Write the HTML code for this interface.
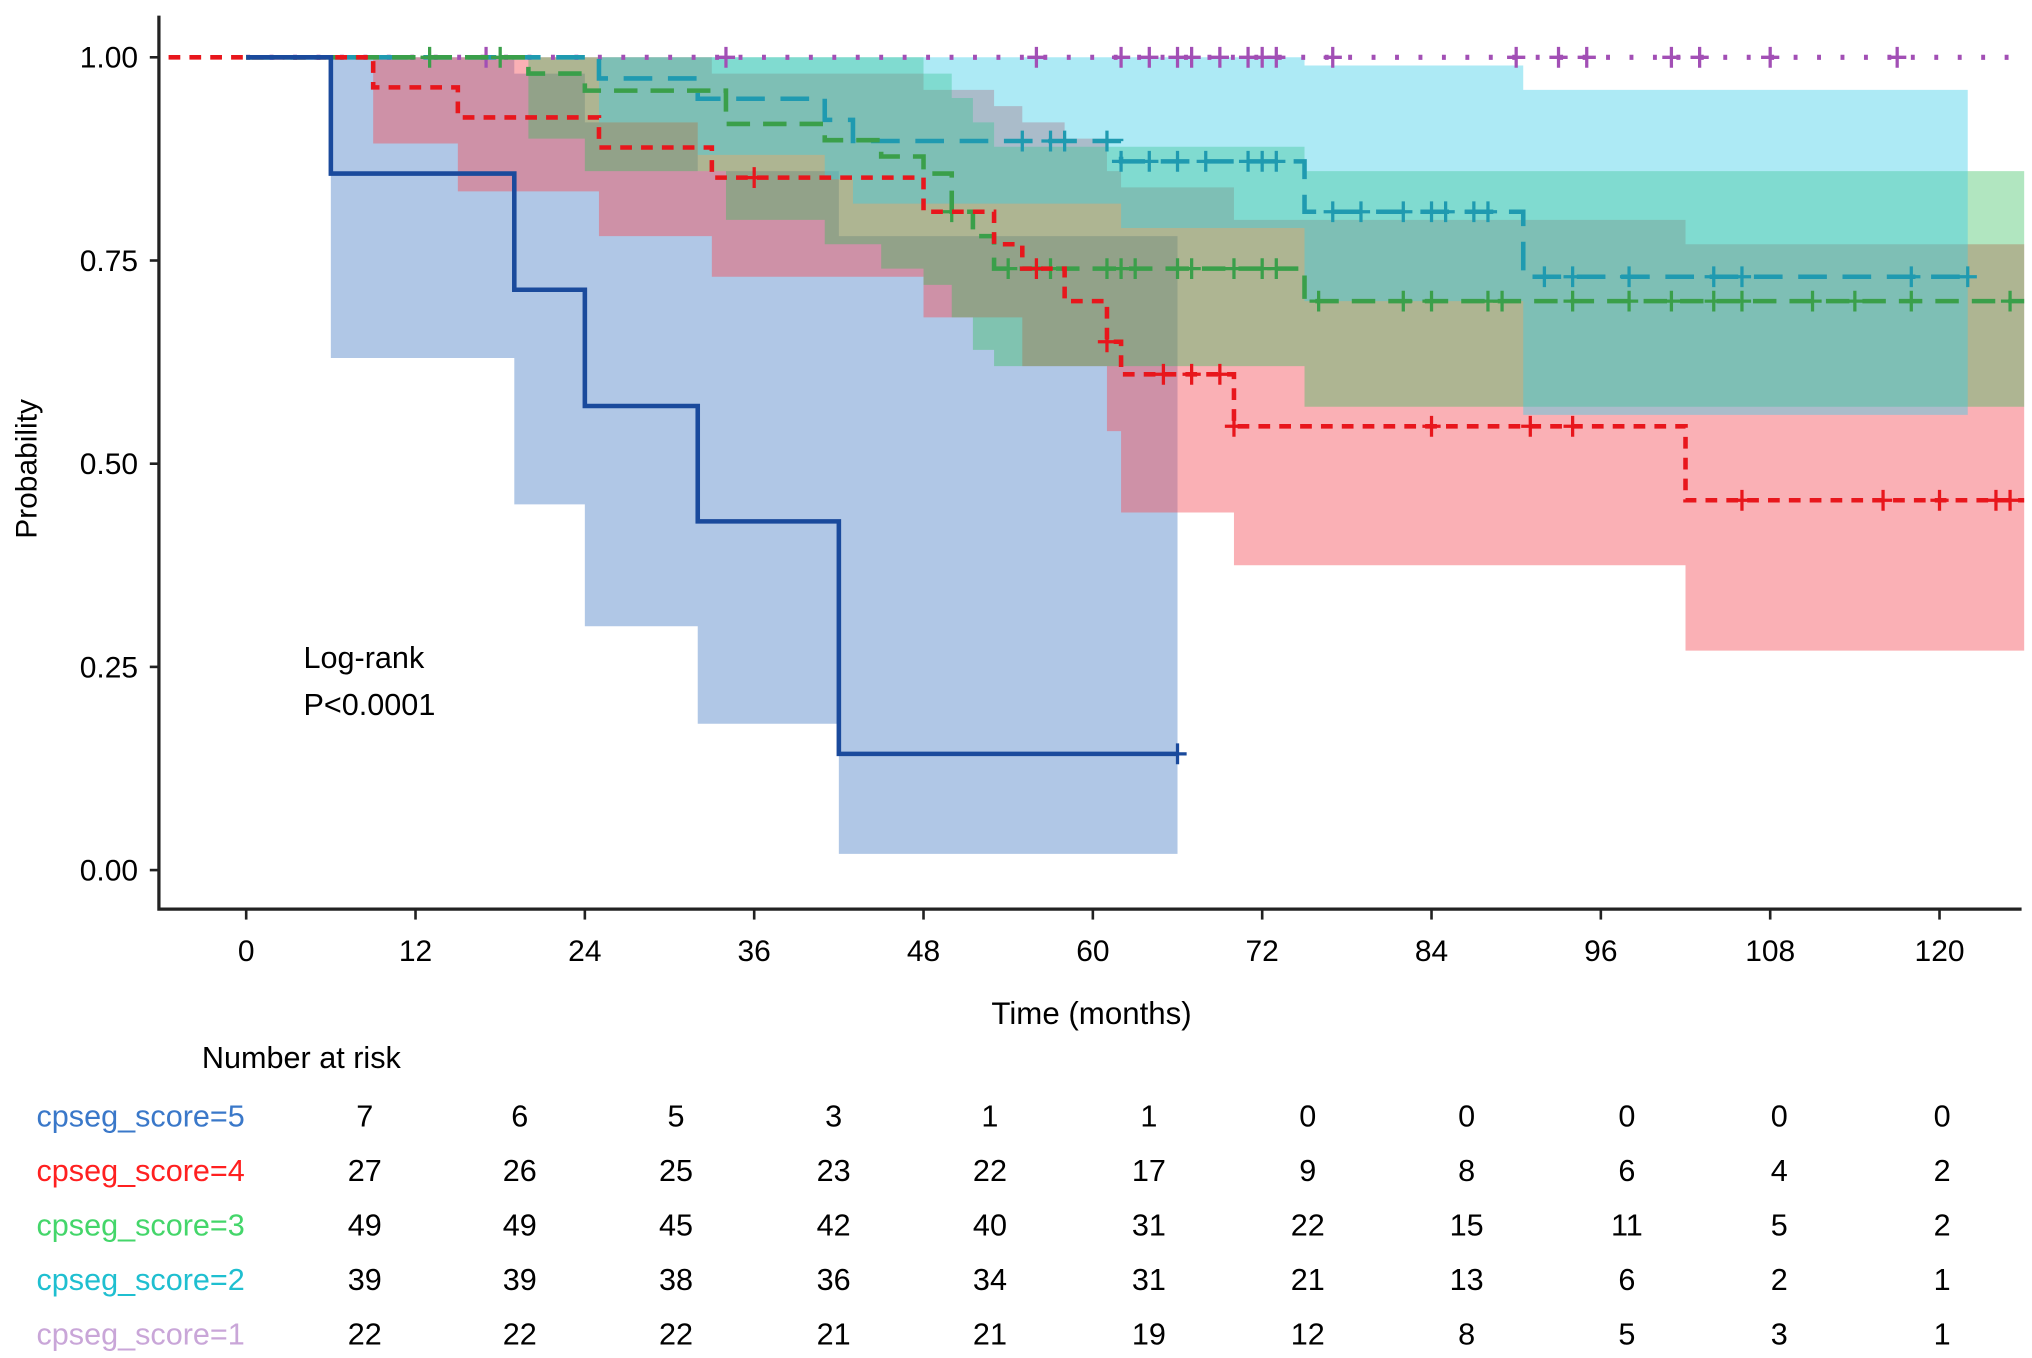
<!DOCTYPE html>
<html><head><meta charset="utf-8"><style>
html,body{margin:0;padding:0;background:#fff;}
svg{display:block;font-family:"Liberation Sans",Arial,sans-serif;}
</style></head><body>
<svg id="chart" width="2032" height="1358" viewBox="0 0 1560 1042.6" preserveAspectRatio="none" xmlns="http://www.w3.org/2000/svg">
<g id="bands"></g>
<g id="curves"></g>
<g id="axes"></g>
<text x="233" y="513" font-size="23.5">Log-rank</text>
<text x="233" y="549" font-size="23.5">P&lt;0.0001</text>
<text x="838" y="786" font-size="24" text-anchor="middle">Time (months)</text>
<text transform="translate(28,360) rotate(-90)" font-size="23" text-anchor="middle">Probability</text>
<text x="155" y="820" font-size="23.5">Number at risk</text>
<g id="risk"></g>
</svg>
<script>
const xTicks=[0,12,24,36,48,60,72,84,96,108,120];
const yTicks=[0,0.25,0.5,0.75,1];
const yTickLabels=["0.00","0.25","0.50","0.75","1.00"];
// score 5
const s5Times=[6,19,24,32,42];
const s5Surv=[0.857,0.714,0.571,0.429,0.143];
const s5Lower=[0.63,0.45,0.30,0.18,0.02];
const s5Upper=[1,0.98,0.92,0.86,0.78];
const s5Censor=[66];
// score 4
const s4Times=[9,15,25,33,48,53,55,58,61,62,70,102];
const s4Surv=[0.963,0.926,0.889,0.852,0.81,0.77,0.74,0.70,0.65,0.61,0.546,0.455];
const s4Lower=[0.894,0.835,0.78,0.73,0.68,0.68,0.62,0.62,0.54,0.44,0.375,0.27];
const s4Upper=[1,1,1,0.98,0.96,0.94,0.92,0.9,0.86,0.84,0.8,0.77];
const s4Censor=[36,56,61,65,67,69,70,84,91,94,106,116,120,124,125];
// score 3
const s3Times=[20,24,34,41,45,48,50,51.5,53,75];
const s3Surv=[0.98,0.959,0.918,0.898,0.878,0.857,0.81,0.78,0.74,0.70];
const s3Lower=[0.9,0.86,0.8,0.77,0.74,0.72,0.68,0.64,0.62,0.57];
const s3Upper=[1,1,1,1,1,0.98,0.95,0.92,0.89,0.86];
const s3Censor=[13,18,50,54,57,61,62,63,66,67,70,72,73,76,82,84,88,89,94,98,101,104,106,111,114,118,125];
// score 2
const s2Times=[25,32,41,43,62,75,90.5];
const s2Surv=[0.974,0.949,0.923,0.897,0.872,0.81,0.73];
const s2Lower=[0.92,0.88,0.85,0.82,0.79,0.7,0.56];
const s2Upper=[1,1,1,1,1,0.99,0.96];
const s2Censor=[55,57,58,61,62,64,66,68,71,72,73,77,79,82,84,85,87,88,92,94,98,104,106,118,122];
// score 1
const s1Times=[];
const s1Surv=[];
const s1Lower=[];
const s1Upper=[];
const s1Censor=[17,34,56,62,64,66,67,69,71,72,73,77,90,93,95,101,103,108,117];
// risk table
const riskLabels=["cpseg_score=5","cpseg_score=4","cpseg_score=3","cpseg_score=2","cpseg_score=1"];
const risk5=[7,6,5,3,1,1,0,0,0,0,0];
const risk4=[27,26,25,23,22,17,9,8,6,4,2];
const risk3=[49,49,45,42,40,31,22,15,11,5,2];
const risk2=[39,39,38,36,34,31,21,13,6,2,1];
const risk1=[22,22,22,21,21,19,12,8,5,3,1];

const NS="http://www.w3.org/2000/svg";
const X=t=>189+t*(1300/120);
const Y=p=>668-p*624;
function mk(tag,attrs,parent){const e=document.createElementNS(NS,tag);for(const k in attrs)e.setAttribute(k,attrs[k]);parent.appendChild(e);return e;}
function stepPts(times,vals,start,end){let pts=[[X(start),Y(1)]];let v=1;for(let i=0;i<times.length;i++){pts.push([X(times[i]),Y(v)]);v=vals[i];pts.push([X(times[i]),Y(v)]);}pts.push([X(end),Y(v)]);return pts;}
function survAt(times,vals,t){let v=1;for(let i=0;i<times.length;i++)if(times[i]<=t)v=vals[i];return v;}
const series=[
 {t:s5Times,s:s5Surv,lo:s5Lower,up:s5Upper,c:s5Censor,start:0,end:66,band:"rgba(80,130,200,0.45)",line:"#1a4a9c",dash:"",w:3.5,name:"score-5"},
 {t:s4Times,s:s4Surv,lo:s4Lower,up:s4Upper,c:s4Censor,start:-5.5,end:126,band:"rgba(245,80,90,0.45)",line:"#e8161c",dash:"9,7",w:3.5,name:"score-4"},
 {t:s3Times,s:s3Surv,lo:s3Lower,up:s3Upper,c:s3Censor,start:0,end:126,band:"rgba(50,190,90,0.38)",line:"#3a9f4a",dash:"18,10",w:3.5,name:"score-3"},
 {t:s2Times,s:s2Surv,lo:s2Lower,up:s2Upper,c:s2Censor,start:0,end:122,band:"rgba(60,205,230,0.42)",line:"#1f9ab0",dash:"22,12",w:3.5,name:"score-2"},
 {t:s1Times,s:s1Surv,lo:s1Lower,up:s1Upper,c:s1Censor,start:0,end:126,band:"rgba(190,150,205,0.35)",line:"#a24fb5",dash:"3,15",w:4,name:"score-1"}
];
const bands=document.getElementById('bands'),curves=document.getElementById('curves');
series.forEach(sr=>{
 if(sr.t.length){
  const up=stepPts(sr.t,sr.up,sr.start<0?0:sr.start,sr.end);
  const lo=stepPts(sr.t,sr.lo,sr.start<0?0:sr.start,sr.end).reverse();
  const b=mk('polygon',{points:up.concat(lo).map(p=>p.join(',')).join(' '),fill:sr.band},bands);
  
  
 }
});
series.slice().reverse().forEach(sr=>{
 const pts=stepPts(sr.t,sr.s,sr.start,sr.end);
 const l=mk('polyline',{points:pts.map(p=>p.join(',')).join(' '),fill:'none',stroke:sr.line,'stroke-width':sr.w,'stroke-dasharray':sr.dash},curves);
 
 
 sr.c.forEach(t=>{const x=X(t),y=Y(survAt(sr.t,sr.s,t));
  const g=mk('path',{d:`M${x-7},${y}H${x+7}M${x},${y-8}V${y+8}`,stroke:sr.line,'stroke-width':2.5},curves);
  
  
 });
});
const ax=document.getElementById('axes');
mk('path',{d:'M122,12V698H1552',fill:'none',stroke:'#222','stroke-width':2.5},ax);
yTicks.forEach((v,i)=>{mk('line',{x1:115,x2:122,y1:Y(v),y2:Y(v),stroke:'#222','stroke-width':2},ax);
 const t=mk('text',{x:106,y:Y(v)+8,'font-size':23,'text-anchor':'end'},ax);t.textContent=yTickLabels[i];
 
 });
xTicks.forEach(v=>{mk('line',{x1:X(v),x2:X(v),y1:698,y2:706,stroke:'#222','stroke-width':2},ax);
 const t=mk('text',{x:X(v),y:738,'font-size':23,'text-anchor':'middle'},ax);t.textContent=v;
 
 });
const rk=document.getElementById('risk');
const rows=[risk5,risk4,risk3,risk2,risk1];
const rowColors=["#3a78c9","#ff2020","#44d66a","#1fbfd0","#c9a6d8"];
const colX=[280,399,519,640,760,882,1004,1126,1249,1366,1491];
rows.forEach((r,i)=>{const y=865+i*41.8;
 const l=mk('text',{x:28,y:y,'font-size':23.5,fill:rowColors[i]},rk);l.textContent=riskLabels[i];
 
 
 r.forEach((v,j)=>{const t=mk('text',{x:colX[j],y:y,'font-size':23.5,'text-anchor':'middle'},rk);t.textContent=v;
  
  });
});
</script>
</body></html>
